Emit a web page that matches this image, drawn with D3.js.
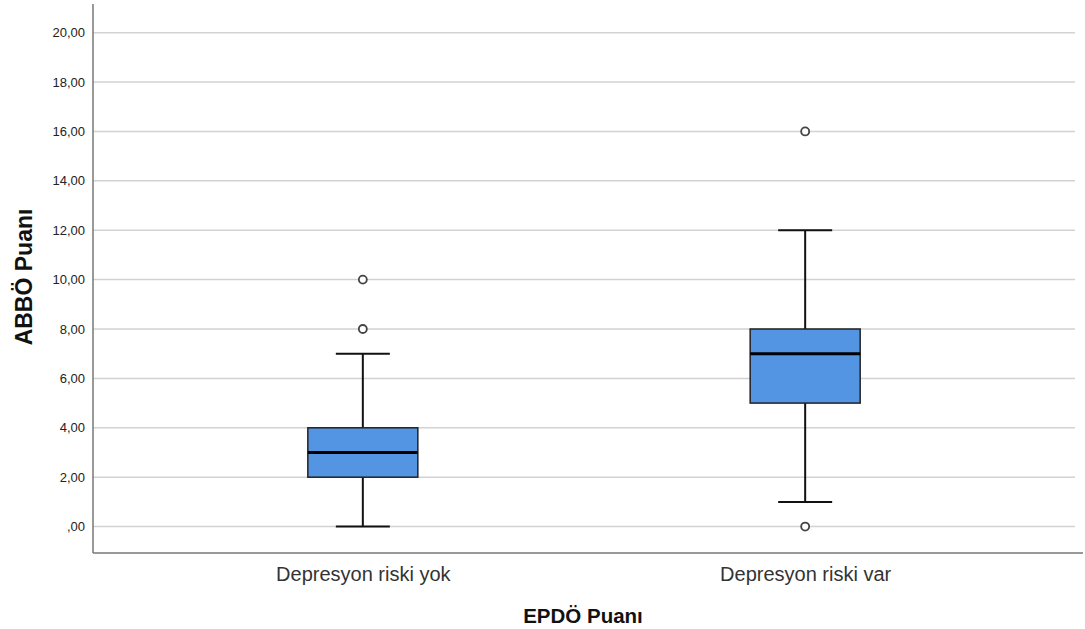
<!DOCTYPE html>
<html>
<head>
<script src="https://d3js.org/d3.v7.min.js"></script>
<style>
  body { margin: 0; background: #fff; }
  text { font-family: "Liberation Sans", Arial, sans-serif; }
</style>
</head>
<body>
<svg width="1085" height="629"></svg>
<script>
// data
var categories = ['Depresyon riski yok', 'Depresyon riski var'];
var mins = [0, 1];
var q1s = [2, 5];
var medians = [3, 7];
var q3s = [4, 8];
var maxs = [7, 12];
var outliers = [[8, 10], [0, 16]];
var yTicks = [0, 2, 4, 6, 8, 10, 12, 14, 16, 18, 20];

var svg = d3.select('svg');
var plotLeft = 93, plotRight = 1083, plotTop = 4, plotBottom = 553;

var yScale = d3.scaleLinear()
  .domain([-1.07, 21.16])
  .range([plotBottom, plotTop]);

var xScale = d3.scalePoint()
  .domain(categories)
  .range([plotLeft, 1075])
  .padding(0.61);

var fmt = function (d) { return d === 0 ? ',00' : d3.format('.2f')(d).replace('.', ','); };

// grid lines
svg.append('g').selectAll('line')
  .data(yTicks).enter()
  .append('line')
  .attr('x1', plotLeft).attr('x2', 1075)
  .attr('y1', function (d) { return yScale(d); })
  .attr('y2', function (d) { return yScale(d); })
  .attr('stroke', '#d2d2d2')
  .attr('stroke-width', 1.5);

// y axis
var yAxis = svg.append('g')
  .attr('transform', 'translate(' + plotLeft + ',0)')
  .call(d3.axisLeft(yScale).tickValues(yTicks).tickFormat(fmt).tickSize(0).tickPadding(8));
yAxis.select('.domain').remove();
yAxis.selectAll('text').attr('font-size', 13).attr('fill', '#222');

svg.append('line')
  .attr('x1', plotLeft).attr('x2', plotLeft).attr('y1', plotTop).attr('y2', plotBottom)
  .attr('stroke', '#777').attr('stroke-width', 1.5);
svg.append('line')
  .attr('x1', plotLeft).attr('x2', plotRight).attr('y1', plotBottom).attr('y2', plotBottom)
  .attr('stroke', '#777').attr('stroke-width', 1.5);

// x axis labels
var xAxis = svg.append('g')
  .attr('transform', 'translate(0,' + plotBottom + ')')
  .call(d3.axisBottom(xScale).tickSize(0).tickPadding(14));
xAxis.select('.domain').remove();
xAxis.selectAll('text').attr('font-size', 20).attr('fill', '#333');

// axis titles
svg.append('text')
  .attr('x', 583).attr('y', 623)
  .attr('text-anchor', 'middle')
  .attr('font-size', 20.5).attr('font-weight', 'bold').attr('fill', '#111')
  .text('EPDÖ Puanı');
svg.append('text')
  .attr('transform', 'translate(32,277) rotate(-90)')
  .attr('text-anchor', 'middle')
  .attr('font-size', 23).attr('font-weight', 'bold').attr('fill', '#111')
  .text('ABBÖ Puanı');

// boxplots
var boxW = 110, capW = 54;
var groups = svg.selectAll('g.box')
  .data(categories).enter()
  .append('g').attr('class', 'box');

groups.append('line')
  .attr('x1', function (d) { return xScale(d); })
  .attr('x2', function (d) { return xScale(d); })
  .attr('y1', function (d, i) { return yScale(maxs[i]); })
  .attr('y2', function (d, i) { return yScale(mins[i]); })
  .attr('stroke', '#111').attr('stroke-width', 2);

groups.append('line')
  .attr('x1', function (d) { return xScale(d) - capW / 2; })
  .attr('x2', function (d) { return xScale(d) + capW / 2; })
  .attr('y1', function (d, i) { return yScale(maxs[i]); })
  .attr('y2', function (d, i) { return yScale(maxs[i]); })
  .attr('stroke', '#111').attr('stroke-width', 2);

groups.append('line')
  .attr('x1', function (d) { return xScale(d) - capW / 2; })
  .attr('x2', function (d) { return xScale(d) + capW / 2; })
  .attr('y1', function (d, i) { return yScale(mins[i]); })
  .attr('y2', function (d, i) { return yScale(mins[i]); })
  .attr('stroke', '#111').attr('stroke-width', 2);

groups.append('rect')
  .attr('x', function (d) { return xScale(d) - boxW / 2; })
  .attr('width', boxW)
  .attr('y', function (d, i) { return yScale(q3s[i]); })
  .attr('height', function (d, i) { return yScale(q1s[i]) - yScale(q3s[i]); })
  .attr('fill', '#5394e3')
  .attr('stroke', '#222').attr('stroke-width', 1.5);

groups.append('line')
  .attr('x1', function (d) { return xScale(d) - boxW / 2; })
  .attr('x2', function (d) { return xScale(d) + boxW / 2; })
  .attr('y1', function (d, i) { return yScale(medians[i]); })
  .attr('y2', function (d, i) { return yScale(medians[i]); })
  .attr('stroke', '#000').attr('stroke-width', 3);

groups.selectAll('circle')
  .data(function (d, i) { return outliers[i].map(function (v) { return { c: d, v: v }; }); })
  .enter().append('circle')
  .attr('cx', function (d) { return xScale(d.c); })
  .attr('cy', function (d) { return yScale(d.v); })
  .attr('r', 4)
  .attr('fill', '#fff')
  .attr('stroke', '#444').attr('stroke-width', 1.8);
</script>
</body>
</html>
